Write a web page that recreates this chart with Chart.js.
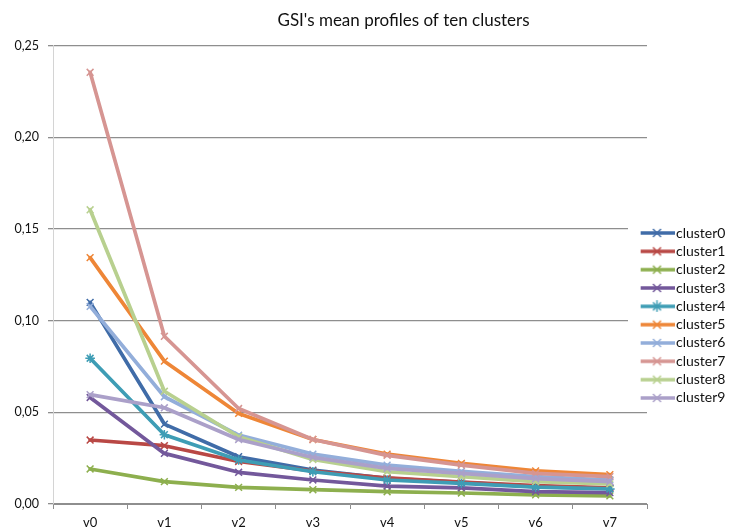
<!DOCTYPE html>
<html><head><meta charset="utf-8">
<script src="https://cdn.jsdelivr.net/npm/chart.js@4.4.0/dist/chart.umd.min.js"></script>
<style>html,body{margin:0;padding:0;background:#fff;} #wrap{width:731px;height:532px;}</style>
</head><body><div id="wrap"><canvas id="c" width="731" height="532"></canvas></div>
<script>
const chartTitle = "GSI's mean profiles of ten clusters";
const categories = ['v0', 'v1', 'v2', 'v3', 'v4', 'v5', 'v6', 'v7'];
const seriesNames = ['cluster0', 'cluster1', 'cluster2', 'cluster3', 'cluster4', 'cluster5', 'cluster6', 'cluster7', 'cluster8', 'cluster9'];
const cluster0 = [0.1100, 0.0436, 0.0258, 0.0185, 0.0140, 0.0118, 0.0095, 0.0085];
const cluster1 = [0.0349, 0.0318, 0.0232, 0.0180, 0.0142, 0.0120, 0.0100, 0.0088];
const cluster2 = [0.0191, 0.0122, 0.0091, 0.0078, 0.0067, 0.0060, 0.0050, 0.0044];
const cluster3 = [0.0581, 0.0276, 0.0173, 0.0131, 0.0098, 0.0088, 0.0068, 0.0062];
const cluster4 = [0.0795, 0.0378, 0.0240, 0.0176, 0.0131, 0.0113, 0.0092, 0.0082];
const cluster5 = [0.1344, 0.0779, 0.0494, 0.0352, 0.0272, 0.0222, 0.0181, 0.0160];
const cluster6 = [0.1078, 0.0585, 0.0376, 0.0272, 0.0212, 0.0178, 0.0149, 0.0131];
const cluster7 = [0.2355, 0.0915, 0.0521, 0.0352, 0.0265, 0.0212, 0.0167, 0.0149];
const cluster8 = [0.1605, 0.0615, 0.0367, 0.0243, 0.0176, 0.0149, 0.0122, 0.0110];
const cluster9 = [0.0597, 0.0525, 0.0352, 0.0254, 0.0194, 0.0167, 0.0138, 0.0122];
const seriesValues = [cluster0, cluster1, cluster2, cluster3, cluster4, cluster5, cluster6, cluster7, cluster8, cluster9];
const yMin = 0, yMax = 0.25, yStep = 0.05;

const colors = ['#406CA8', '#B94845', '#8DAF4E', '#73589B', '#3E9DB5', '#EE8637', '#93AEDA', '#D69592', '#B8D08F', '#ABA0C9'];
const markers = ['crossRot', 'crossRot', 'crossRot', 'crossRot', 'star', 'crossRot', 'crossRot', 'crossRot', 'crossRot', 'crossRot'];
const FONT = 'Lato';

function drawMarker(ctx, style, x, y, r) {
  ctx.beginPath();
  ctx.moveTo(x - r, y - r); ctx.lineTo(x + r, y + r);
  ctx.moveTo(x - r, y + r); ctx.lineTo(x + r, y - r);
  if (style === 'star') {
    const s = r * Math.SQRT2;
    ctx.moveTo(x, y - s); ctx.lineTo(x, y + s);
    ctx.moveTo(x - s, y); ctx.lineTo(x + s, y);
  }
  ctx.stroke();
}
function legendIcon(color, style) {
  const cv = document.createElement('canvas');
  cv.width = 35; cv.height = 12;
  const g = cv.getContext('2d');
  g.strokeStyle = color; g.lineWidth = 3.5; g.lineCap = 'butt';
  g.beginPath(); g.moveTo(0, 6); g.lineTo(35, 6); g.stroke();
  g.lineWidth = 1.5;
  drawMarker(g, style, 17.5, 6, 4);
  return cv;
}
const icons = colors.map((c, i) => legendIcon(c, markers[i]));

const datasets = seriesNames.map((name, i) => ({
  label: name,
  data: seriesValues[i],
  borderColor: colors[i],
  backgroundColor: colors[i],
  borderWidth: 3.7,
  borderJoinStyle: 'round',
  borderCapStyle: 'round',
  pointStyle: markers[i],
  pointRadius: 4.8,
  pointBorderWidth: 1.5,
  pointBorderColor: colors[i],
  pointHoverRadius: 4.8,
  fill: false,
  tension: 0,
  order: seriesNames.length - i
}));

const LEG_LEFT = 640.67, LEG_TOP = 221.67;
const layoutFix = {
  id: 'layoutFix',
  afterLayout(chart) {
    const lg = chart.legend;
    lg.left = LEG_LEFT; lg.right = 731; lg.width = 731 - LEG_LEFT;
    lg.top = LEG_TOP; lg.bottom = 532; lg.height = 532 - LEG_TOP;
    const t = chart.titleBlock;
    t.left += 38; t.right += 38;
  },
  beforeDatasetsDraw(chart) {
    const ctx = chart.ctx;
    ctx.save();
    ctx.fillStyle = '#ffffff';
    ctx.fillRect(628, 222, 103, 187);
    ctx.restore();
    chart.legend.draw(chart.chartArea);
  }
};

new Chart(document.getElementById('c'), {
  type: 'line',
  data: { labels: categories, datasets },
  plugins: [layoutFix],
  options: {
    responsive: false,
    devicePixelRatio: 1,
    animation: false,
    events: [],
    layout: { padding: 0 },
    plugins: {
      title: {
        display: true, text: chartTitle, color: '#111',
        font: { family: FONT, size: 17, weight: 'normal' },
        padding: { top: 10.5, bottom: 14.8 }
      },
      legend: {
        display: true, position: 'right', align: 'start', maxWidth: 84,
        labels: {
          font: { family: FONT, size: 14 }, color: '#111',
          usePointStyle: true, pointStyleWidth: 24, boxHeight: 12, padding: 4.33,
          generateLabels(chart) {
            return chart.data.datasets.map((ds, i) => ({
              text: ds.label, pointStyle: icons[i], fillStyle: colors[i], strokeStyle: colors[i],
              lineWidth: 0, hidden: false, datasetIndex: i, fontColor: '#111'
            }));
          }
        }
      },
      tooltip: { enabled: false }
    },
    scales: {
      x: {
        type: 'category', offset: true,
        afterFit(s) { s.height = 28; },
        grid: { display: true, drawOnChartArea: false, drawTicks: true, tickLength: 5, offset: true, tickColor: '#8e8e8e', tickWidth: 1 },
        border: { display: true, color: '#8e8e8e', width: 1 },
        ticks: { color: '#111', font: { family: FONT, size: 13 }, padding: 6, maxRotation: 0 }
      },
      y: {
        min: yMin, max: yMax,
        afterFit(s) { s.width = 53; },
        grid: { display: true, drawOnChartArea: true, drawTicks: true, tickLength: 5, color: '#8e8e8e', lineWidth: 1.3, tickColor: '#8e8e8e' },
        border: { display: true, color: '#d4d4d4', width: 1 },
        ticks: {
          stepSize: yStep, color: '#111', font: { family: FONT, size: 12.5 }, padding: 9,
          callback: (v) => Number(v).toFixed(2).replace('.', ',')
        }
      }
    }
  }
});
</script></body></html>
